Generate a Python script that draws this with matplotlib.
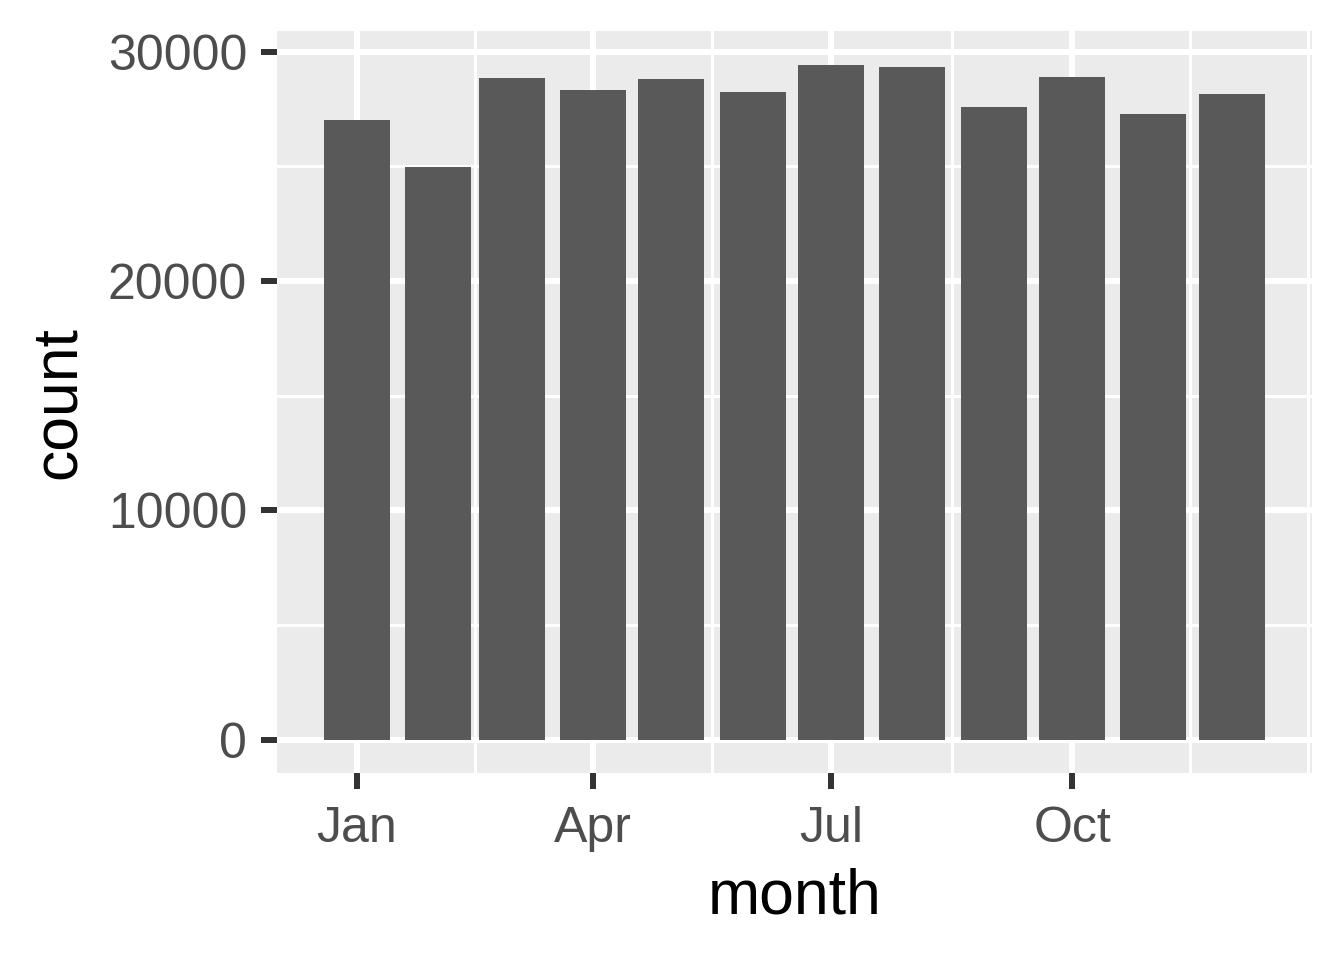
import numpy as np
import matplotlib
matplotlib.use("Agg")
import matplotlib.pyplot as plt
import matplotlib.dates as mdates

# Data: flights per month (2013)
months = ["2013-01-01", "2013-02-01", "2013-03-01", "2013-04-01", "2013-05-01", "2013-06-01",
          "2013-07-01", "2013-08-01", "2013-09-01", "2013-10-01", "2013-11-01", "2013-12-01"]
counts = [27004, 24951, 28834, 28330, 28796, 28243, 29425, 29327, 27574, 28889, 27268, 28135]
major_dates = ["2013-01-01", "2013-04-01", "2013-07-01", "2013-10-01"]
major_labels = ["Jan", "Apr", "Jul", "Oct"]
y_major = [0, 10000, 20000, 30000]
y_labels = ["0", "10000", "20000", "30000"]

plt.rcParams['font.family'] = ['Liberation Sans', 'DejaVu Sans']

x = mdates.date2num(np.array(months, dtype="datetime64[D]"))
xm = mdates.date2num(np.array(major_dates, dtype="datetime64[D]"))
width = 0.9 * np.min(np.diff(x))

fig = plt.figure(figsize=(13.44, 9.6), dpi=100)
W, H = 1344, 960
ax = fig.add_axes([277 / W, (H - 773.3) / H, (1312 - 277) / W, (773.3 - 31) / H])
ax.set_facecolor("#EBEBEB")
for s in ax.spines.values():
    s.set_visible(False)

# limits with ggplot-style 5% expansion
xlo, xhi = x.min() - width / 2, x.max() + width / 2
xs = (xhi - xlo) * 0.05
ax.set_xlim(xlo - xs, xhi + xs)
ymax = max(counts)
ax.set_ylim(-0.05 * ymax, ymax * 1.05)

# minor grid positions (ggplot regular_minor_breaks)
bd = np.diff(xm)[0]
ext = np.concatenate([[xm[0] - bd], xm, [xm[-1] + bd]])
xminor = (ext[:-1] + ext[1:]) / 2
xminor = np.concatenate([xminor, [ext[0], ext[-1]]])
xl = ax.get_xlim()
xminor = [v for v in xminor if xl[0] <= v <= xl[1]]
ymin_lines = [5000, 15000, 25000]

px = 0.72  # points per pixel at dpi 100
for v in xminor:
    ax.axvline(v, color="white", lw=3 * px, zorder=0.5)
for v in ymin_lines:
    ax.axhline(v, color="white", lw=3 * px, zorder=0.5)
for v in xm:
    ax.axvline(v, color="white", lw=6 * px, zorder=0.6)
for v in y_major:
    ax.axhline(v, color="white", lw=6 * px, zorder=0.6)

ax.bar(x, counts, width=width, color="#595959", zorder=2)

ax.set_xticks(xm)
ax.set_xticklabels(major_labels)
ax.set_yticks(y_major)
ax.set_yticklabels(y_labels)
ax.tick_params(axis="both", length=16 * px, width=6 * px, color="#333333",
               labelcolor="#4D4D4D", labelsize=36, pad=14 * px)
ax.tick_params(axis="x", pad=17 * px)

ax.set_xlabel("month", fontsize=45, color="black", labelpad=11)
ax.set_ylabel("count", fontsize=45, color="black", labelpad=14)

fig.savefig("out.png", dpi=100)
